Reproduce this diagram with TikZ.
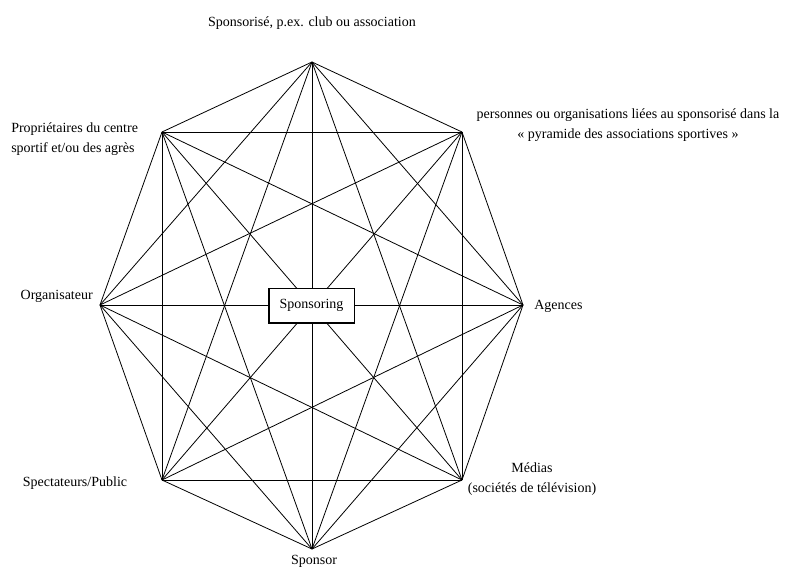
\documentclass[tikz,border=0pt]{standalone}
\usepackage{fontspec}
\setmainfont{Liberation Serif}

\tikzset{
  edge/.style={line width=0.6pt},
  lbl/.style={inner sep=0.75pt, font=\fontsize{10.5}{15}\selectfont},
  hub/.style={draw, line width=1pt, fill=white, minimum width=64pt, minimum height=26pt, inner sep=2pt, font=\fontsize{10.5}{15}\selectfont}
}

\begin{document}
\begin{tikzpicture}[x=0.75pt, y=0.75pt, yscale=-1]
\useasboundingbox (0, 0) rectangle (793, 568);
%Corners
\coordinate (top) at (312, 62);
\coordinate (tr) at (462, 132);
\coordinate (rgt) at (523, 305);
\coordinate (br) at (462, 480);
\coordinate (bot) at (312, 549);
\coordinate (bl) at (162, 480);
\coordinate (lft) at (100, 305);
\coordinate (tl) at (162, 132);
%Lines
\foreach \a/\rest in {top/{tr,rgt,br,bot,bl,lft,tl}, tr/{rgt,br,bot,bl,lft,tl}, rgt/{br,bot,bl,lft,tl}, br/{bot,bl,lft,tl}, bot/{bl,lft,tl}, bl/{lft,tl}, lft/{tl}}
  \foreach \b in \rest
    \draw [edge] (\a) -- (\b);
\node [hub] (sponsoring) at (311.5, 305.5) {Sponsoring};
%Text
\node [lbl] (sponsorise) at (312, 23) {Sponsorisé, p.ex. club ou association};
\node [lbl, anchor=west, align=left] (proprio) at (10, 139) {Propriétaires du centre\\sportif et/ou des agrès};
\node [lbl, align=center] (pyramide) at (628, 125) {personnes ou organisations liées au sponsorisé dans la\\« pyramide des associations sportives »};
\node [lbl, anchor=east] (organisateur) at (94, 296) {Organisateur};
\node [lbl, anchor=west] (agences) at (533, 306) {Agences};
\node [lbl] (public) at (75, 483) {Spectateurs/Public};
\node [lbl, align=center] (medias) at (532, 479) {Médias\\(sociétés de télévision)};
\node [lbl] (sponsor) at (314, 561) {Sponsor};
\end{tikzpicture}
\end{document}
